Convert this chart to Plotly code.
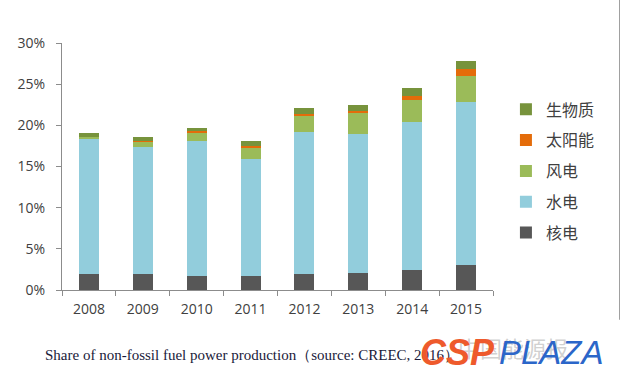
import plotly.graph_objects as go

years = ["2008", "2009", "2010", "2011", "2012", "2013", "2014", "2015"]
nuclear = [1.9, 1.9, 1.75, 1.75, 1.9, 2.1, 2.4, 3.0]
hydro = [16.5, 15.5, 16.3, 14.2, 17.35, 16.8, 18.0, 19.8]
wind = [0.2, 0.6, 1.1, 1.35, 1.95, 2.65, 2.65, 3.25]
solar = [0.02, 0.08, 0.12, 0.15, 0.2, 0.2, 0.5, 0.8]
biomass = [0.4, 0.5, 0.45, 0.7, 0.7, 0.7, 0.95, 0.95]

series = [
    ("核电", nuclear, "#575757"),
    ("水电", hydro, "#92CDDC"),
    ("风电", wind, "#9BBB59"),
    ("太阳能", solar, "#E46C0A"),
    ("生物质", biomass, "#77933C"),
]

fig = go.Figure()
n = len(series)
for i, (name, vals, color) in enumerate(series):
    fig.add_trace(go.Bar(x=years, y=vals, name=name, marker_color=color,
                         marker_line_width=0, legendgroup=str(i),
                         legendrank=1000 + (n - i)))

fig.update_layout(
    barmode="stack",
    bargap=0.63,
    width=620, height=384,
    margin=dict(l=62, r=127, t=43, b=94),
    paper_bgcolor="white", plot_bgcolor="white",
    font=dict(family="Open Sans, Liberation Sans, sans-serif", color="#404040"),
    legend=dict(
        x=1.03, y=0.80, xanchor="left", yanchor="top",
        traceorder="grouped", tracegroupgap=7,
        font=dict(family="Noto Sans CJK SC", size=16, color="#404040"),
        itemwidth=30,
    ),
    showlegend=True,
)
fig.update_yaxes(
    range=[0, 30], dtick=5, ticksuffix="%", showgrid=False,
    showline=True, linecolor="#8c8c8c", linewidth=1,
    ticks="outside", ticklen=5, tickcolor="#8c8c8c", ticklabelstandoff=8,
    tickfont=dict(size=14, color="#404040"), zeroline=False,
)
fig.update_xaxes(
    showline=True, linecolor="#8c8c8c", linewidth=1,
    ticks="outside", tickson="boundaries", ticklen=5, tickcolor="#8c8c8c",
    ticklabelstandoff=6,
    tickfont=dict(size=14, color="#404040"),
)

# Caption
fig.add_annotation(
    xref="paper", yref="paper", x=-0.045, y=-0.265, xanchor="left", yanchor="middle",
    text="Share of non-fossil fuel power production（source: CREEC, 2016）",
    showarrow=False, font=dict(family="Liberation Serif", size=15, color="#1a1a3a"),
)
# Watermark
fig.add_annotation(
    xref="paper", yref="paper", x=0.915, y=-0.23, xanchor="left", yanchor="middle",
    text="中国能源报", showarrow=False,
    font=dict(family="Noto Sans CJK SC", size=22, color="rgba(150,150,150,0.45)"),
)
fig.add_annotation(
    xref="paper", yref="paper", x=0.825, y=-0.252, xanchor="left", yanchor="middle",
    text="<b><i>CSP</i></b>", showarrow=False,
    font=dict(family="Liberation Sans", size=36, color="#EE5A2C"),
)
fig.add_annotation(
    xref="paper", yref="paper", x=1.01, y=-0.252, xanchor="left", yanchor="middle",
    text="<i>PLAZA</i>", showarrow=False,
    font=dict(family="Liberation Sans", size=33, color="#2B66C9"),
)
# Right border line
fig.add_shape(type="line", xref="paper", yref="paper",
              x0=1.296, x1=1.296, y0=-0.12, y1=1.2,
              line=dict(color="#222222", width=2))

fig.write_html("out.html", config={"displayModeBar": False})

# remove default body margin so the figure sits at the page origin
with open("out.html", "r", encoding="utf-8") as f:
    html = f.read()
html = html.replace("<head>", "<head><style>body{margin:0;}</style>", 1)
with open("out.html", "w", encoding="utf-8") as f:
    f.write(html)
